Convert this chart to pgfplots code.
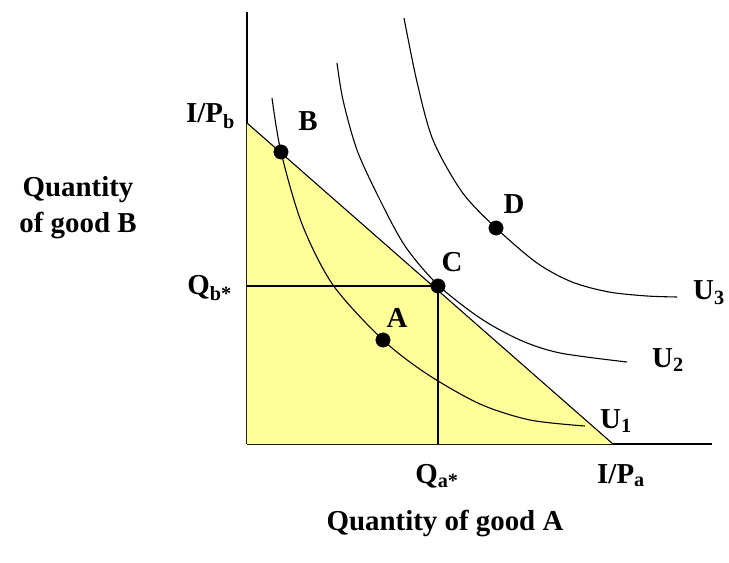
\documentclass[border=0pt]{standalone}
\usepackage{fontspec}
\setmainfont{Liberation Serif}
\usepackage{pgfplots}
\pgfplotsset{compat=1.18}
\definecolor{budgetyellow}{HTML}{FFFF99}
\tikzset{lbl/.style={font=\fontsize{29}{34}\selectfont\bfseries, inner sep=0pt}}
\begin{document}
\begin{tikzpicture}[x=1bp,y=1bp]
\path[use as bounding box] (-247bp,-119bp) rectangle (482bp,444bp);
\begin{axis}[
  at={(0,0)}, anchor=south west,
  scale only axis, width=465bp, height=432bp,
  xmin=0, xmax=465, ymin=0, ymax=432,
  axis x line=bottom, axis y line=left,
  axis line style={-, line width=1.3pt},
  ticks=none, clip=false,
]
% budget set
\addplot[fill=budgetyellow, draw=none] coordinates {(0,0) (0,321) (366,0)} -- cycle;
\addplot[black, line width=1.1pt] coordinates {(0,321) (366,0)};
% Q lines
\addplot[black, line width=1.3pt] coordinates {(0,158) (191,158) (191,0)};
% U1
\addplot[black, line width=1.1pt, smooth] coordinates {(25,346) (34,292) (55,220) (86,159) (136,104) (180,70) (233,40) (283,24) (338,18)};
% U2
\addplot[black, line width=1.1pt, smooth] coordinates {(90,381) (96,344) (110,294) (132,246) (158,198) (191,159) (233,126) (273,104) (313,91) (380,82)};
% U3
\addplot[black, line width=1.1pt, smooth] coordinates {(157,426) (170,362) (186,304) (215,252) (249,216) (290,181) (325,162) (362,152) (400,148) (430,147)};
% points
\addplot[only marks, mark=*, mark size=7.2bp, black] coordinates {(34,292) (191,158) (136,104) (249,216)};
% labels
\node[lbl] at (axis cs:61,323) {B};
\node[lbl] at (axis cs:205,182) {C};
\node[lbl] at (axis cs:150,126) {A};
\node[lbl] at (axis cs:267,240) {D};
\node[lbl, anchor=base west] at (axis cs:353,16) {U\textsubscript{1}};
\node[lbl, anchor=base west] at (axis cs:405,77) {U\textsubscript{2}};
\node[lbl, anchor=base west] at (axis cs:446,144) {U\textsubscript{3}};
\node[lbl, anchor=base east] at (axis cs:-12,321) {I/P\textsubscript{b}};
\node[lbl, anchor=base east] at (axis cs:-15,149) {Q\textsubscript{b*}};
\node[lbl, anchor=base] at (axis cs:190,-39) {Q\textsubscript{a*}};
\node[lbl, anchor=base] at (axis cs:374,-39) {I/P\textsubscript{a}};
\node[lbl, anchor=base] at (axis cs:198,-86) {Quantity of good A};
\node[lbl, anchor=base] at (axis cs:-169,247) {Quantity};
\node[lbl, anchor=base] at (axis cs:-169,211) {of good B};
\end{axis}
\end{tikzpicture}
\end{document}
